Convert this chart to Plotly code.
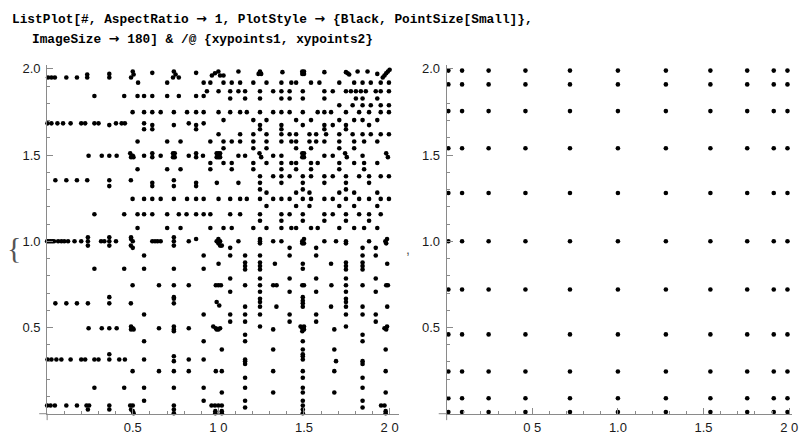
import plotly.graph_objects as go

# ---------------- data ----------------
# Left plot (xypoints1): rows of points, each row = one y level with its x values
left_row_y = [
    1.995, 1.985, 1.981, 1.977, 1.975, 1.971, 1.967, 1.962, 1.95, 1.92,
    1.87, 1.843, 1.828, 1.789, 1.749, 1.703, 1.684, 1.674, 1.65, 1.621,
    1.579, 1.54, 1.51, 1.496, 1.488, 1.454, 1.418, 1.377, 1.354, 1.339,
    1.32, 1.301, 1.282, 1.246, 1.205, 1.157, 1.119, 1.077, 1.023, 1.013,
    1.0, 0.988, 0.975, 0.962, 0.918, 0.877, 0.87, 0.856, 0.841, 0.836,
    0.784, 0.745, 0.707, 0.676, 0.667, 0.655, 0.648, 0.64, 0.628, 0.621,
    0.575, 0.534, 0.506, 0.496, 0.489, 0.478, 0.458, 0.42, 0.372, 0.345,
    0.333, 0.314, 0.305, 0.289, 0.247, 0.209, 0.151, 0.123, 0.075, 0.048,
    0.036, 0.024, 0.015, 0.003,
]
left_row_x = [
    [2.0],
    [0.5, 0.74, 1.0, 1.117, 1.243, 1.49, 1.5, 1.813, 1.871, 1.99],
    [1.374, 1.619, 1.745],
    [0.614, 0.87],
    [0.98, 1.755, 1.98],
    [0.363, 1.235, 1.25, 1.49, 1.5, 1.928],
    [0.234, 0.505, 0.75, 1.764],
    [0.962, 1.01, 1.03, 1.97],
    [0.005, 0.025, 0.045, 0.112, 0.174, 0.234, 0.363, 0.49, 0.735, 0.769, 1.96],
    [0.531, 0.701, 0.914, 0.953, 1.03, 1.078, 1.127, 1.204, 1.281, 1.368, 1.426,
     1.454, 1.541, 1.59, 1.706, 1.793, 1.842, 1.89, 1.948, 1.996],
    [0.933, 1.001, 1.069, 1.117, 1.156, 1.243, 1.32, 1.368, 1.416, 1.493, 1.619,
     1.668, 1.745, 1.774, 1.803, 1.832, 1.861, 1.919, 1.948, 1.996],
    [0.276, 0.45, 0.528, 0.566, 0.614, 0.701, 0.769, 0.87, 0.914],
    [1.069, 1.156, 1.243, 1.368, 1.416, 1.493, 1.619, 1.803, 1.842, 1.928],
    [1.706, 1.784, 1.842, 1.89, 1.948, 1.996],
    [0.499, 0.566, 0.614, 0.663, 0.74, 0.817, 0.87, 0.914, 1.001, 1.069, 1.127,
     1.166, 1.243, 1.32, 1.368, 1.416, 1.493, 1.58, 1.619, 1.658, 1.745, 1.822,
     1.88, 1.948, 1.996],
    [1.03, 1.204, 1.281, 1.454, 1.541, 1.706, 1.793, 1.842, 1.928],
    [0.002, 0.025, 0.06, 0.093, 0.137, 0.199, 0.222, 0.276, 0.3, 0.402, 0.435,
     0.454, 0.566, 0.827, 0.914],
    [0.363, 0.614, 0.74, 0.87, 1.243, 1.368, 1.493, 1.619, 1.668, 1.745, 1.88],
    [0.566, 0.614, 0.87, 1.243, 1.368, 1.619, 1.745],
    [1.001, 1.127, 1.204, 1.281, 1.368, 1.416, 1.454, 1.532, 1.571, 1.629, 1.706,
     1.784, 1.842, 1.89, 1.948, 1.996],
    [0.528, 0.701, 0.779, 0.953, 1.03, 1.078, 1.127, 1.204, 1.281, 1.368, 1.426,
     1.454, 1.532, 1.571, 1.619, 1.706, 1.793, 1.851, 1.928],
    [1.03, 1.204, 1.281, 1.454, 1.541, 1.706, 1.793],
    [0.485, 0.614, 0.735, 0.745, 0.87, 0.99, 1.0, 1.01, 1.24, 1.49, 1.5, 1.74, 1.98],
    [0.242, 0.319, 0.363, 0.406, 0.5, 0.566, 0.663, 0.827, 0.91, 1.117, 1.156,
     1.32, 1.368, 1.619, 1.668, 1.842],
    [0.49, 0.504, 0.614, 0.735, 0.745, 0.87, 0.99, 1.0, 1.01, 1.25, 1.49, 1.5,
     1.75, 1.99],
    [0.953, 1.03, 1.078, 1.204, 1.281, 1.368, 1.426, 1.454, 1.541, 1.58, 1.706,
     1.793, 1.851, 1.928],
    [0.528, 0.701, 0.779, 0.953, 1.078, 1.204, 1.368, 1.454, 1.541, 1.706, 1.851],
    [1.243, 1.32, 1.368, 1.416, 1.493, 1.541, 1.619, 1.668, 1.745, 1.822, 1.88,
     1.948, 1.996],
    [0.048, 0.112, 0.174, 0.234, 0.363, 0.489, 0.74],
    [0.614, 0.87, 0.991, 1.117, 1.243, 1.368, 1.493, 1.619, 1.745, 1.88],
    [0.363, 0.614, 0.74, 0.87],
    [1.243, 1.493, 1.745],
    [1.281, 1.454, 1.532, 1.706, 1.793, 1.928],
    [0.499, 0.566, 0.614, 0.663, 0.74, 0.817, 0.87, 0.914, 1.001, 1.069, 1.127,
     1.166, 1.243, 1.32, 1.368, 1.416, 1.493, 1.541, 1.619, 1.668, 1.745, 1.822,
     1.88, 1.948, 1.996],
    [1.281, 1.454, 1.532, 1.706, 1.793, 1.928],
    [0.276, 0.45, 0.528, 0.566, 0.614, 0.701, 0.769, 0.814, 0.87, 0.914, 0.953,
     1.069, 1.127, 1.243, 1.368, 1.416, 1.493, 1.619, 1.668, 1.745, 1.822, 1.88,
     1.948],
    [1.243, 1.368, 1.493, 1.619, 1.745, 1.88],
    [0.528, 0.701, 0.779, 0.953, 1.03, 1.078, 1.204, 1.281, 1.368, 1.426, 1.454,
     1.541, 1.58, 1.706, 1.793, 1.851, 1.928],
    [0.238, 0.363, 0.49, 0.74],
    [0.49, 0.87, 1.0, 1.243, 1.5, 1.985],
    [0.0, 0.01, 0.02, 0.03, 0.04, 0.064, 0.083, 0.1, 0.122, 0.16, 0.199, 0.238,
     0.315, 0.334, 0.363, 0.402, 0.5, 0.614, 0.63, 0.645, 0.663, 0.74, 0.827,
     0.99, 1.01, 1.117, 1.243, 1.32, 1.368, 1.49, 1.619, 1.687, 1.745, 1.88, 1.975],
    [1.0, 1.49, 1.5, 1.98, 1.243, 1.745],
    [0.238, 0.363, 0.489, 0.74, 1.01, 1.02],
    [0.5, 1.069, 1.416, 1.571, 1.842, 1.919],
    [0.566, 0.914, 1.069, 1.156, 1.243, 1.416, 1.571, 1.842, 1.919],
    [1.156, 1.243, 1.745, 1.842],
    [1.001, 1.33, 1.493, 1.658, 1.986],
    [1.156, 1.243, 1.745, 1.842],
    [0.276, 0.45, 0.566, 0.74, 0.914, 1.493],
    [1.156, 1.243, 1.745, 1.842],
    [1.069, 1.243, 1.416, 1.571, 1.745, 1.919],
    [0.499, 0.653, 0.74, 0.827, 0.985, 1.0, 1.015, 1.156, 1.243, 1.32, 1.34,
     1.49, 1.5, 1.66, 1.745, 1.842, 1.98, 1.99],
    [1.069, 1.243, 1.416, 1.571, 1.745, 1.919],
    [0.363, 0.74, 1.493],
    [0.74, 1.243, 1.745],
    [1.493],
    [0.99, 1.243, 1.745],
    [0.048, 0.112, 0.174, 0.238, 0.363, 0.489, 0.74, 1.493],
    [1.005],
    [1.156, 1.243, 1.339, 1.493, 1.658, 1.745, 1.842, 1.986],
    [0.566, 0.914, 1.069, 1.156, 1.243, 1.416, 1.571, 1.745, 1.842, 1.919],
    [1.069, 1.156, 1.416, 1.571, 1.919],
    [0.49, 0.74, 0.97, 1.243, 1.48, 1.5, 1.745, 1.985],
    [0.242, 0.319, 0.363, 0.406, 0.5, 0.653, 0.827, 0.985, 1.01, 1.49, 1.97],
    [0.49, 0.505, 0.74, 0.99, 1.0, 1.32, 1.5, 1.677, 1.98],
    [0.74, 1.49],
    [1.156, 1.842],
    [0.566, 0.914, 1.156, 1.493, 1.842],
    [1.02, 1.32, 1.493, 1.677, 1.977],
    [0.363, 1.493],
    [0.74, 1.493],
    [0.002, 0.025, 0.054, 0.083, 0.137, 0.199, 0.222, 0.276, 0.3, 0.363, 0.421,
     0.454, 0.566, 0.827, 0.914, 1.156, 1.493],
    [0.74, 1.156, 1.687, 1.842],
    [1.156, 1.842],
    [0.499, 0.653, 0.74, 0.827, 0.985, 1.02, 1.32, 1.493, 1.677, 1.977],
    [1.156, 1.493, 1.842],
    [0.276, 0.45, 0.566, 0.74, 0.914, 1.156, 1.493, 1.842],
    [1.02, 1.32, 1.493, 1.677, 1.977],
    [0.566, 0.914, 1.156, 1.493, 1.842],
    [0.0, 0.02, 0.045, 0.112, 0.174, 0.23, 0.245, 0.363, 0.485, 0.5, 0.74, 0.96,
     0.98, 1.0, 1.02, 1.493, 1.95, 1.97],
    [1.156, 1.842],
    [0.238, 0.363, 0.49, 0.74, 1.493],
    [0.5, 0.982, 1.02, 1.977],
    [0.505, 0.74, 0.982, 1.02, 1.493, 1.977],
]

# Right plot (xypoints2): full grid of these x and y levels
right_x_levels = [0.01, 0.09, 0.245, 0.46, 0.72, 1.0, 1.28, 1.54, 1.755, 1.91, 1.99]
right_y_levels = [0.01, 0.09, 0.245, 0.46, 0.72, 1.0, 1.28, 1.54, 1.755, 1.91, 1.99]

tick_vals = [0.5, 1.0, 1.5, 2.0]
left_x_ticktext = ["0.5", "1 0", "1.5", "2 0"]
right_x_ticktext = ["0 5", "1.0", "1.5", "2 0"]
y_ticktext = ["0.5", "1.0", "1.5", "2.0"]

ARROW = "<span style='font-family:DejaVu Sans'>\u2192</span>"
code_line1 = ("ListPlot[#, AspectRatio " + ARROW + " 1, PlotStyle " + ARROW +
              " {Black, PointSize[Small]},")
code_line2 = "ImageSize " + ARROW + " 180] &amp; /@ {xypoints1, xypoints2}"

# ---------------- build ----------------
lx, ly = [], []
for yv, xs in zip(left_row_y, left_row_x):
    for xv in xs:
        lx.append(xv)
        ly.append(yv)

rx, ry = [], []
for yv in right_y_levels:
    for xv in right_x_levels:
        rx.append(xv)
        ry.append(yv)

W, H = 809, 437
AX = "#8a8a8a"

def px(v):
    return v / W

def py(v):
    return (H - v) / H

fig = go.Figure()
fig.add_trace(go.Scatter(x=lx, y=ly, mode="markers", xaxis="x", yaxis="y",
                         marker=dict(size=4.6, color="black", line=dict(width=0)),
                         cliponaxis=False, showlegend=False, hoverinfo="skip"))
fig.add_trace(go.Scatter(x=rx, y=ry, mode="markers", xaxis="x2", yaxis="y2",
                         marker=dict(size=4.6, color="black", line=dict(width=0)),
                         cliponaxis=False, showlegend=False, hoverinfo="skip"))

tickfont = dict(family="Liberation Sans, Arial, sans-serif", size=13, color="#1a1a1a")
minor = dict(ticks="inside", ticklen=3, tickcolor=AX, tickwidth=1,
             tickmode="linear", tick0=0, dtick=0.1, showgrid=False)
common = dict(showgrid=False, zeroline=False, showline=True, linecolor=AX,
              linewidth=1, ticks="inside", ticklen=6, tickcolor=AX, tickwidth=1,
              tickfont=tickfont, tickmode="array", tickvals=tick_vals,
              minor=minor, fixedrange=True)

ydom = [py(413.5), py(62)]
fig.update_layout(
    width=W, height=H,
    margin=dict(l=0, r=0, t=0, b=0),
    paper_bgcolor="white", plot_bgcolor="white",
    xaxis=dict(domain=[px(47.5), px(401.5)], range=[0, 2.052], anchor="y",
               ticktext=left_x_ticktext, ticklabelstandoff=2, **common),
    yaxis=dict(domain=ydom, range=[0, 2.02], anchor="x",
               ticktext=y_ticktext, ticklabelstandoff=3, **common),
    xaxis2=dict(domain=[px(450), px(798)], range=[0, 2.017], anchor="y2",
                ticktext=right_x_ticktext, ticklabelstandoff=2, **common),
    yaxis2=dict(domain=ydom, range=[0, 2.02], anchor="x2",
                ticktext=y_ticktext, ticklabelstandoff=3, **common),
)

# axis stubs extending past the origin (Mathematica style)
for x0 in (47.5, 450):
    fig.add_shape(type="line", xref="paper", yref="paper",
                  x0=px(x0 - 8), x1=px(x0), y0=py(413.5), y1=py(413.5),
                  line=dict(color=AX, width=1))
    fig.add_shape(type="line", xref="paper", yref="paper",
                  x0=px(x0), x1=px(x0), y0=py(413.5), y1=py(420),
                  line=dict(color=AX, width=1))

codefont = dict(family="Liberation Mono, Courier New, monospace", size=12.8, color="black")
fig.add_annotation(text="<b>" + code_line1 + "</b>", xref="paper", yref="paper",
                   x=px(10), y=py(5), xanchor="left", yanchor="top",
                   showarrow=False, font=codefont)
fig.add_annotation(text="<b>" + code_line2 + "</b>", xref="paper", yref="paper",
                   x=px(30), y=py(25), xanchor="left", yanchor="top",
                   showarrow=False, font=codefont)
fig.add_annotation(text="{", xref="paper", yref="paper", x=px(14), y=py(246),
                   xanchor="center", yanchor="middle", showarrow=False,
                   font=dict(family="Liberation Serif, serif", size=30, color="#555"))
fig.add_annotation(text=",", xref="paper", yref="paper", x=px(411), y=py(247),
                   xanchor="center", yanchor="middle", showarrow=False,
                   font=dict(family="Liberation Sans, sans-serif", size=14, color="#555"))

fig.write_html(
    "out.html",
    config={"displayModeBar": False, "staticPlot": True},
    post_script="document.body.style.margin='0px';document.body.style.padding='0px';"
                "document.body.style.overflow='hidden';",
)
